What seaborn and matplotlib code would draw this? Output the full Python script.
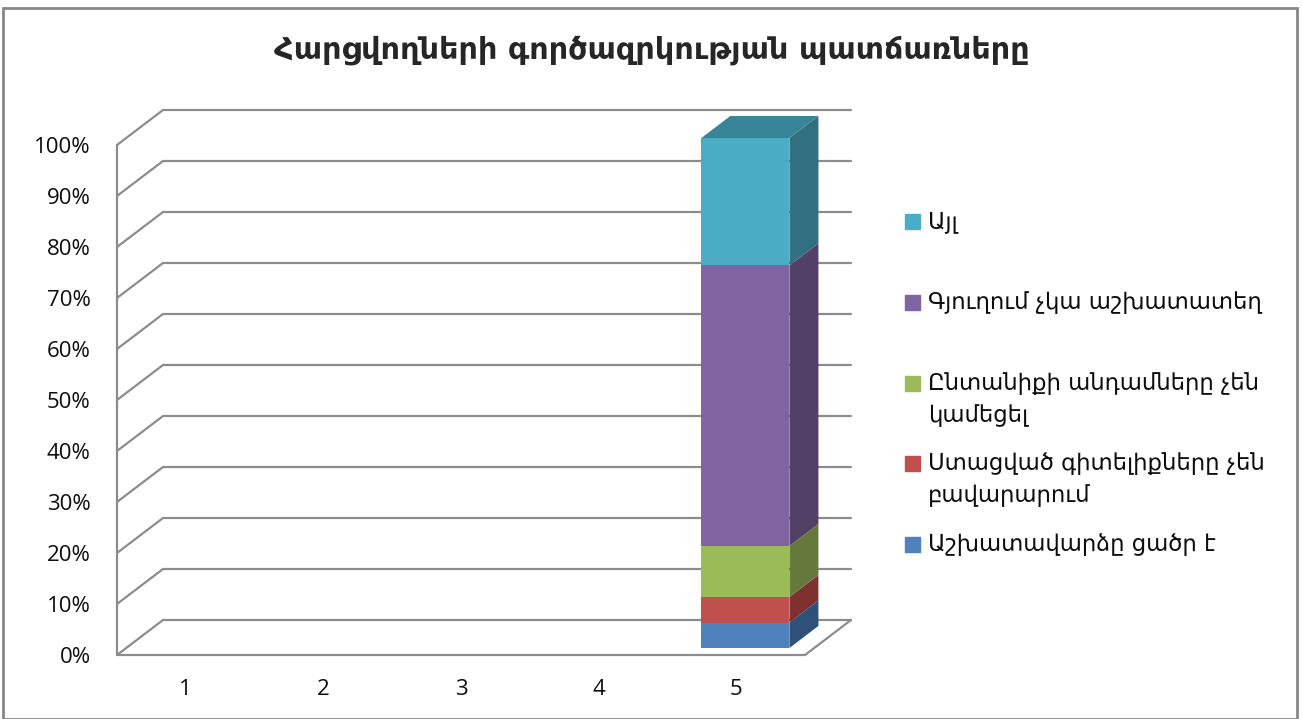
import numpy as np
import pandas as pd
import matplotlib
matplotlib.use("Agg")
import matplotlib.pyplot as plt
from matplotlib.patches import Rectangle
import seaborn as sns

sns.set_style("white")
plt.rcParams['font.family'] = ['Open Sans', 'DejaVu Sans']

# ---------------- data ----------------
title = "Հարցվողների գործազրկության պատճառները"
categories = [1, 2, 3, 4, 5]
series_names = [
    "Աշխատավարձը ցածր է",
    "Ստացված գիտելիքները չեն\nբավարարում",
    "Ընտանիքի անդամները չեն\nկամեցել",
    "Գյուղում չկա աշխատատեղ",
    "Այլ",
]
val_low_wage = [0, 0, 0, 0, 5]
val_knowledge = [0, 0, 0, 0, 5]
val_family = [0, 0, 0, 0, 10]
val_no_jobs = [0, 0, 0, 0, 55]
val_other = [0, 0, 0, 0, 25]
y_ticks = [0, 10, 20, 30, 40, 50, 60, 70, 80, 90, 100]
y_tick_labels = [f"{v}%" for v in y_ticks]

colors = ["#4F81BD", "#C0504D", "#9BBB59", "#8064A2", "#4BACC6"]
side_colors = ["#2F5079", "#7E3230", "#65793A", "#524067", "#326F80"]
top_colors = ["#3D6694", "#9A3F3D", "#7C9647", "#665083", "#388597"]

# ---------------- figure ----------------
W, H = 1303, 719
fig = plt.figure(figsize=(W / 100, H / 100), dpi=100)
ax = fig.add_axes([117 / W, 64 / H, 688 / W, 510 / H])

DX = 46 / 137.6   # full depth offset in x data units
DY = 35 / 5.1     # full depth offset in y (%) units
d0, d1 = 0.2, 0.83
bar_w = 0.64
grid_c = "#8C8C8C"

# gridlines (back wall + side wall)
for v in y_ticks:
    ax.plot([0.5, 0.5 + DX, 5.5 + DX], [v, v + DY, v + DY], color=grid_c,
            lw=1.6, clip_on=False, zorder=1)
# floor front edge and right edge, front-left axis
ax.plot([0.5, 5.5, 5.5 + DX], [0, 0, DY], color=grid_c, lw=1.6, clip_on=False, zorder=1)
ax.plot([0.5, 0.5], [0, 100], color=grid_c, lw=1.6, clip_on=False, zorder=1)

# stacked values
stack = np.array([val_low_wage, val_knowledge, val_family, val_no_jobs, val_other], dtype=float)
cum = np.cumsum(stack, axis=0)
bottoms = cum - stack

# front faces via seaborn (largest cumulative first), shifted into depth
for i in range(len(series_names) - 1, -1, -1):
    df = pd.DataFrame({"cat": categories, "top": cum[i]})
    n_before = len(ax.patches)
    sns.barplot(data=df, x="cat", y="top", native_scale=True, width=bar_w,
                color=colors[i], saturation=1, linewidth=0, errorbar=None, ax=ax,
                zorder=3)
    for p in ax.patches[n_before:]:
        x0, y0 = p.get_x(), p.get_y()
        p.set_xy((x0 + d0 * DX, y0 + d0 * DY))
        p.set_clip_on(False)

# side and top faces
dd = d1 - d0
for i in range(len(series_names)):
    for j, c in enumerate(categories):
        h = stack[i][j]
        if h <= 0:
            continue
        xr = c + bar_w / 2 + d0 * DX
        yb = bottoms[i][j] + d0 * DY
        yt = cum[i][j] + d0 * DY
        ax.fill([xr, xr + dd * DX, xr + dd * DX, xr],
                [yb, yb + dd * DY, yt + dd * DY, yt],
                color=side_colors[i], lw=0, clip_on=False, zorder=3)
        if i == len(series_names) - 1:
            xl = c - bar_w / 2 + d0 * DX
            ax.fill([xl, xr, xr + dd * DX, xl + dd * DX],
                    [yt, yt, yt + dd * DY, yt + dd * DY],
                    color=top_colors[i], lw=0, clip_on=False, zorder=3)

ax.set_xlim(0.5, 5.5)
ax.set_ylim(0, 100)
ax.set_xticks(categories)
ax.set_xticklabels([str(c) for c in categories])
ax.set_yticks(y_ticks)
ax.set_yticklabels(y_tick_labels)
ax.tick_params(axis="both", length=0, labelsize=16, colors="#0d0d0d")
ax.tick_params(axis="y", pad=19)
ax.tick_params(axis="x", pad=17)
ax.set_xlabel("")
ax.set_ylabel("")
for s in ax.spines.values():
    s.set_visible(False)
ax.set_facecolor("none")

# title
fig.text(652 / W, 1 - 50 / H, title, ha="center", va="center", fontsize=21.8,
         fontweight="bold", family=["DejaVu Sans"])

# legend (manual, reversed order like the reference)
row_y = [221, 302, 383, 463, 544]
line_gap = 32
for k, i in enumerate(range(len(series_names) - 1, -1, -1)):
    yc = row_y[k]
    fig.patches.append(Rectangle((905 / W, 1 - (yc + 7.5) / H), 15 / W, 15 / H,
                                 transform=fig.transFigure, color=colors[i]))
    for li, line in enumerate(series_names[i].split("\n")):
        fig.text(928 / W, 1 - (yc + 7 + li * line_gap) / H, line, ha="left",
                 va="baseline", fontsize=16.4, color="#0d0d0d",
                 family=["DejaVu Sans"])

# outer border
fig.patches.append(Rectangle((3 / W, 0), 1294 / W, 1 - 8 / H, transform=fig.transFigure,
                             fill=False, edgecolor="#878787", lw=2))

fig.savefig("out.png", dpi=100)
